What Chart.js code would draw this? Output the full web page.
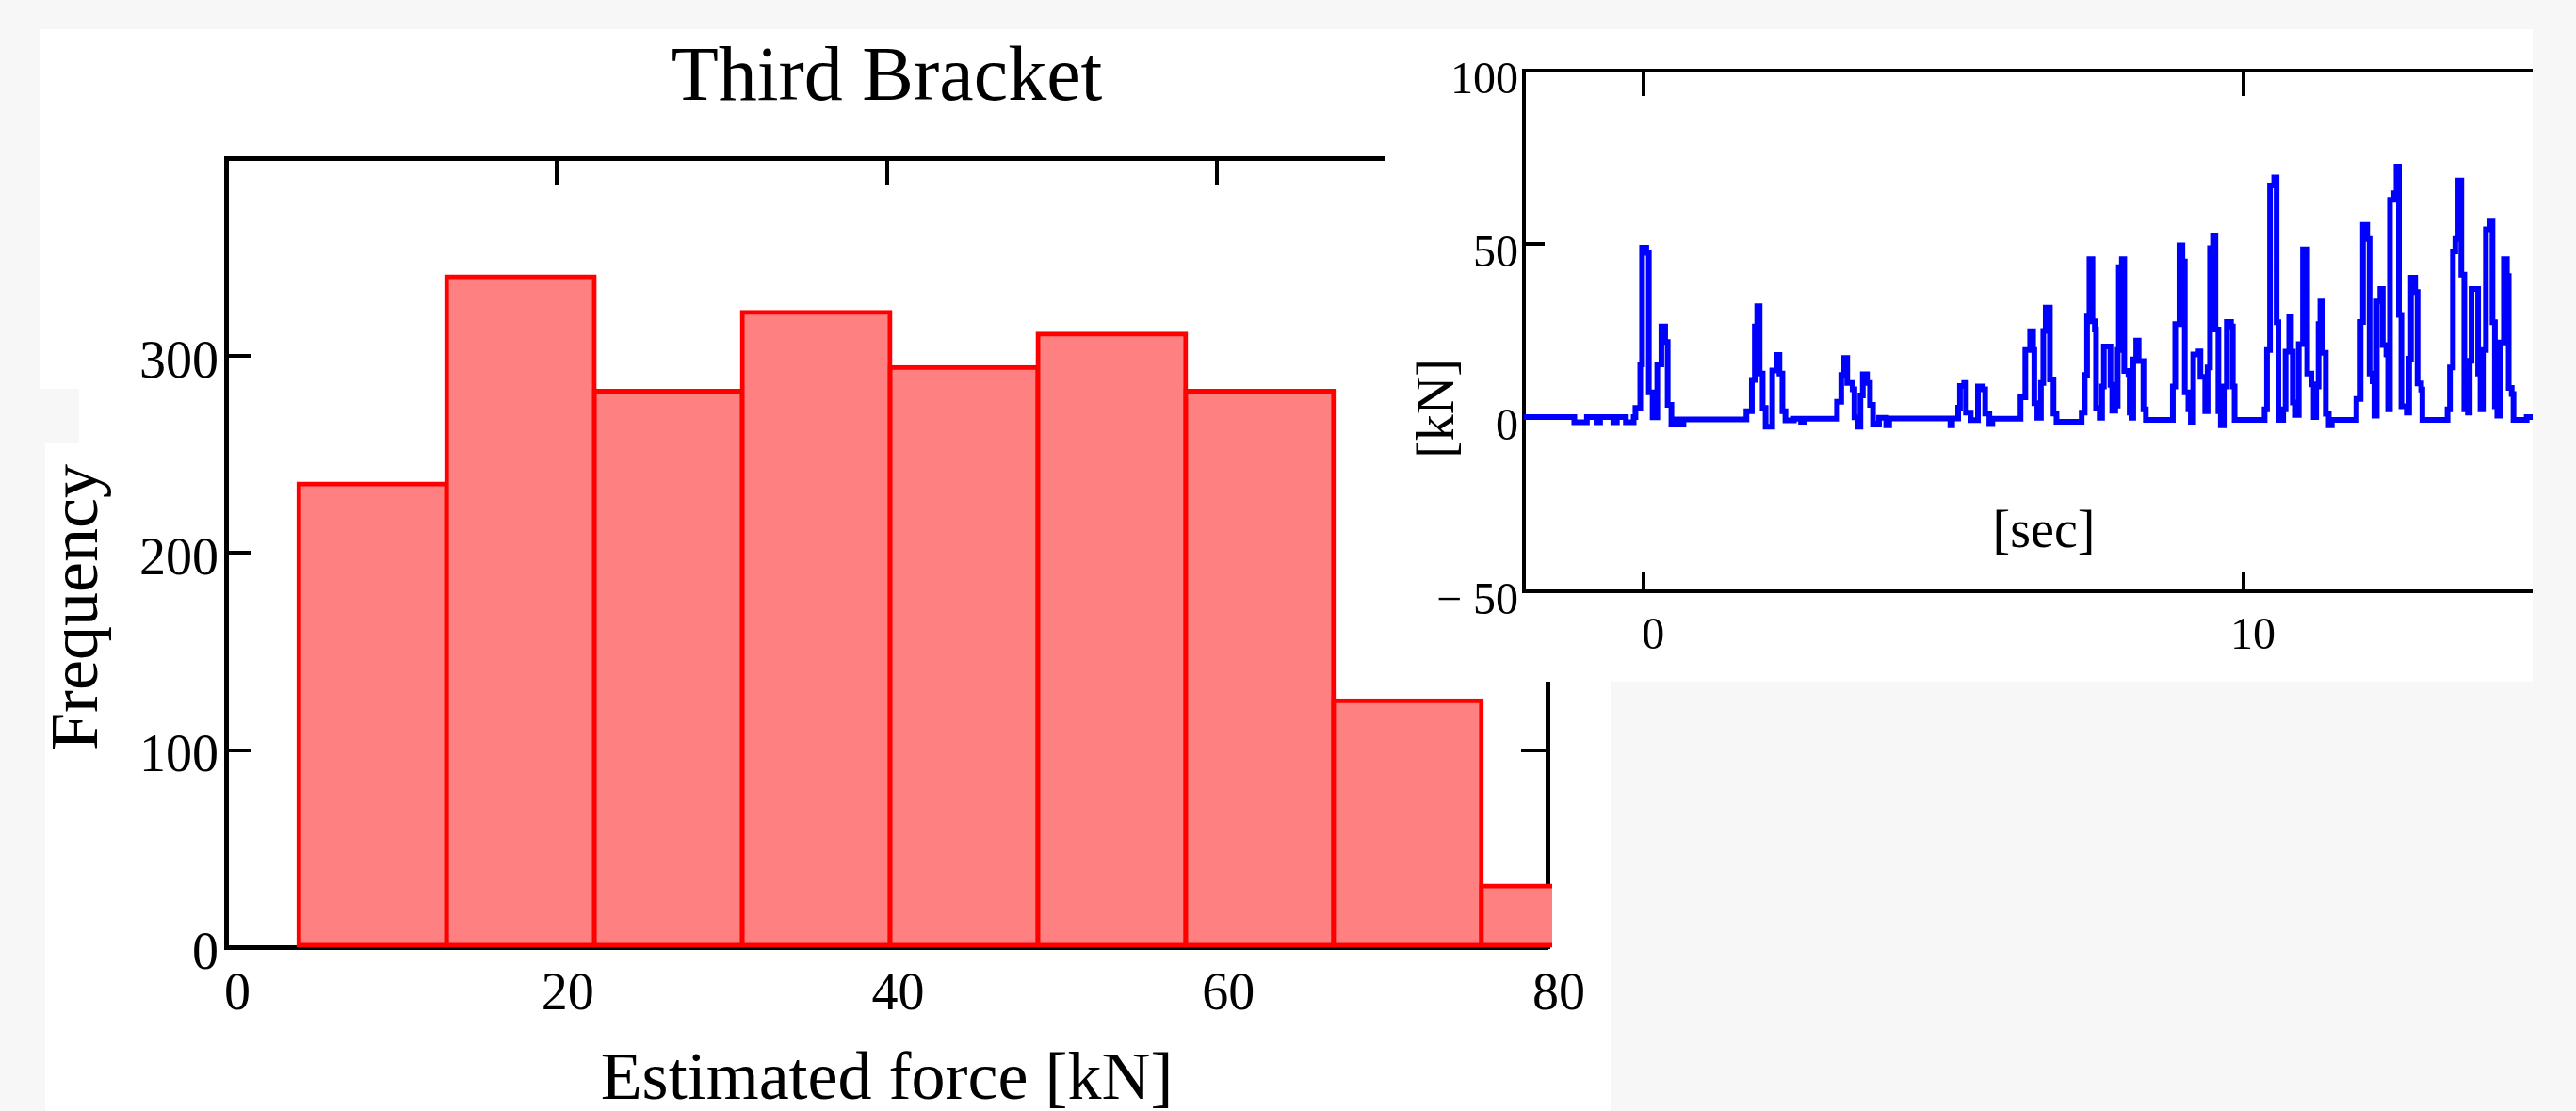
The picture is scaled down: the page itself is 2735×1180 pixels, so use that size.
<!DOCTYPE html>
<html>
<head>
<meta charset="utf-8">
<script src="https://cdn.jsdelivr.net/npm/chart.js"></script>
<style>
  html, body { margin: 0; padding: 0; background: #f7f7f7; }
  body { width: 2735px; height: 1180px; position: relative; overflow: hidden; }
  .sheet { position: absolute; background: #fff; }
  .gap { position: absolute; background: #f7f7f7; }
  #hist { position: absolute; left: 0; top: 0; }
  #inset-box { position: absolute; left: 1470px; top: 31px; width: 1219px; height: 693px; background: #fff; }
  #inset { position: absolute; left: 0; top: 0; }
</style>
</head>
<body>
<div class="sheet" style="left:42px;top:31px;width:1668px;height:1149px;"></div>
<div class="gap" style="left:42px;top:413px;width:42px;height:57px;"></div>
<div class="gap" style="left:42px;top:470px;width:6px;height:710px;"></div>
<canvas id="hist" width="1710" height="1180"></canvas>
<div id="inset-box"><canvas id="inset" width="1219" height="693"></canvas></div>

<script>
// ---------- data ----------
// histogram: bin centres (kN) and counts, bin width 8.95 kN
const binCentres = [8.875, 17.825, 26.775, 35.725, 44.675, 53.625, 62.575, 71.525, 80.475];
const frequency  = [235, 340, 282, 322, 294, 311, 282, 125, 31];
const forceTicks = [0, 20, 40, 60, 80];
const freqTicks  = [0, 100, 200, 300];

// inset: force time history, [sec, kN] change points
const forceSignal = [
  [-2,0.2],[-1.16,-1.3],[-0.95,0.2],[-0.79,-1.3],[-0.73,0.2],[-0.51,-1.3],[-0.45,0.2],[-0.30,-1.3],[-0.17,0.2],
  [-0.14,2.8],[-0.06,15.4],[-0.03,49],[0.04,47.5],[0.083,7.3],[0.146,0.1],[0.224,15.4],[0.292,26.3],[0.355,21.8],[0.397,3.7],[0.459,-1.7],[0.55,-0.5],[0.62,-1.7],[0.66,-0.5],
  [1.71,1.9],[1.80,10.9],[1.85,26.3],[1.89,32.1],[1.93,12.7],[1.98,2.8],[2.03,-2.6],[2.14,13.6],[2.21,18.1],[2.26,12.7],[2.31,1.9],[2.36,-0.8],[2.50,-0.3],[2.62,-1.2],[2.68,-0.3],
  [3.22,4.6],[3.29,12.3],[3.34,17.2],[3.39,10],[3.48,8.2],[3.51,0.1],[3.56,-2.6],[3.61,6.4],[3.65,12.5],[3.72,10],[3.77,3.7],[3.82,-1.7],[3.92,0],[4.04,-2.2],[4.09,-0.2],
  [5.11,-2.2],[5.14,-0.2],[5.24,2.9],[5.27,9.1],[5.34,10],[5.37,1.5],[5.45,-0.7],[5.57,9],[5.65,8.2],[5.69,1.2],[5.76,-1.6],[5.81,-0.3],
  [6.28,5.9],[6.36,19.5],[6.44,24.9],[6.49,19.5],[6.51,4.2],[6.56,0],[6.62,10],[6.66,25],[6.70,31.7],[6.77,11],[6.83,1.2],[6.88,-1.2],
  [7.30,1.5],[7.35,12.3],[7.39,29.4],[7.43,45.7],[7.48,27.8],[7.52,25.4],[7.54,2.8],[7.60,0],[7.64,9],[7.67,20.5],[7.78,9.5],[7.81,2],[7.86,3.5],[7.90,19.5],[7.92,43.4],[7.97,45.7],[8.01,13.5],[8.08,12.6],[8.10,1.5],[8.13,0],[8.16,16.8],[8.21,22.2],[8.25,16.3],[8.33,2.4],[8.37,-0.6],
  [8.82,9],[8.86,27],[8.93,49.7],[8.98,45],[9.02,7.3],[9.08,2.4],[9.12,-1.2],[9.16,18.2],[9.25,19.1],[9.28,11.8],[9.36,1.9],[9.40,14.5],[9.44,48.9],[9.49,52.5],[9.53,25.4],[9.58,1.9],[9.62,-2.2],[9.67,9],[9.72,27.6],[9.79,26.3],[9.82,9],[9.85,-0.6],
  [10.35,2.4],[10.39,19.5],[10.44,66.9],[10.51,69.2],[10.55,27.5],[10.58,-0.6],[10.66,2.4],[10.70,19],[10.76,29],[10.79,19],[10.82,4.4],[10.87,0.8],[10.92,21.2],[10.99,48.5],[11.06,12.7],[11.13,9.6],[11.17,0.2],[11.21,9],[11.25,27],[11.28,33.5],[11.31,18.7],[11.37,1.1],[11.42,-2.2],[11.47,-0.6],
  [11.88,5.4],[11.95,27.6],[11.99,55.6],[12.06,51.5],[12.10,12.7],[12.15,10.5],[12.18,0.6],[12.22,33.5],[12.28,37.1],[12.32,20.9],[12.38,18.2],[12.41,2.4],[12.44,62.8],[12.51,64.7],[12.55,72.3],[12.59,29.6],[12.63,3.3],[12.72,1.5],[12.76,17],[12.79,40.3],[12.86,36.2],[12.90,9.9],[12.96,8.1],[12.98,-0.6],
  [13.40,2.4],[13.44,14.5],[13.49,47.9],[13.53,51.5],[13.58,68.3],[13.63,41.2],[13.68,2.4],[13.74,1.5],[13.77,16.4],[13.80,37.1],[13.91,12.7],[13.95,2.4],[13.99,19.5],[14.04,54.3],[14.10,56.5],[14.15,27.5],[14.19,3.3],[14.23,0.6],[14.27,21.7],[14.34,45.7],[14.39,40.8],[14.42,8.6],[14.47,6.8],[14.50,-0.6],[14.72,0.2],[14.82,0.2]
];
const timeTicks = [0, 10];
const kNTicks   = [-50, 0, 50, 100];

// ---------- helpers ----------
const SERIF = "'Liberation Serif', 'Times New Roman', serif";
Chart.defaults.font.family = SERIF;
Chart.defaults.color = '#000';
Chart.defaults.animation = false;

// force a scale box size and drop the label overhang padding
function fixBox(w, h){
  return function(scale){
    if(w!==null) scale.width = w;
    if(h!==null) scale.height = h;
    scale.paddingLeft = scale.paddingRight = scale.paddingTop = scale.paddingBottom = 0;
  };
}
function onlyTicks(list){ return function(scale){ scale.ticks = list.map(v=>({value:v})); }; }

// free text (axis titles placed off-centre like the original)
const freeText = {
  id:'freeText',
  afterDraw(chart, args, opts){
    const ctx = chart.ctx;
    (opts.items||[]).forEach(it=>{
      ctx.save();
      ctx.translate(it.x, it.y);
      if(it.rotate) ctx.rotate(it.rotate);
      ctx.font = it.size+'px '+SERIF;
      ctx.fillStyle = '#000';
      ctx.textAlign = 'center';
      ctx.textBaseline = 'middle';
      ctx.fillText(it.text, 0, 0);
      ctx.restore();
    });
  }
};

const AXIS = {color:'#000', width:5};
const TICKMARK = (len)=>({display:true, offset:false, drawOnChartArea:false, drawTicks:true, tickLength:-len, color:'#000', lineWidth:4});

// ---------- histogram ----------
new Chart(document.getElementById('hist'), {
  type:'bar',
  data:{ datasets:[{
    data: binCentres.map((c,i)=>({x:c, y:frequency[i]})),
    backgroundColor:'#ff8080',
    borderColor:'#ff0000',
    borderWidth:5,
    borderSkipped:false,
    inflateAmount:2.5,
    barPercentage:1,
    categoryPercentage:1,
    clip:{left:10, top:10, right:5, bottom:5}
  }]},
  options:{
    responsive:false,
    layout:{padding:{left:0, right:67, top:0, bottom:0}},
    plugins:{
      legend:{display:false},
      tooltip:{enabled:false},
      title:{display:true, text:'Third Bracket', fullSize:false, color:'#000',
             font:{size:82, weight:'normal'}, padding:{top:35, bottom:35}},
      freeText:{items:[{text:'Frequency', x:84, y:645, size:72, rotate:-Math.PI/2}]}
    },
    scales:{
      x:{type:'linear', position:'bottom', min:0, max:80, offset:false,
         afterBuildTicks:onlyTicks(forceTicks),
         ticks:{font:{size:56}, color:'#000', padding:18, labelOffset:12, maxRotation:0},
         grid:{display:false, drawTicks:false, offset:false},
         border:AXIS,
         title:{display:true, text:'Estimated force [kN]', color:'#000',
                font:{size:72, lineHeight:1}, padding:{top:0, bottom:-4}},
         afterFit:fixBox(null, 174)},
      xTop:{type:'linear', position:'top', min:0, max:80, offset:false,
         afterBuildTicks:onlyTicks(forceTicks),
         ticks:{display:false},
         grid:TICKMARK(28),
         border:AXIS,
         afterFit:fixBox(null, 0)},
      y:{type:'linear', position:'left', min:0, max:400,
         afterBuildTicks:onlyTicks(freqTicks),
         ticks:{font:{size:56}, color:'#000', padding:35, labelOffset:8},
         grid:TICKMARK(27),
         border:AXIS,
         afterFit:fixBox(240, null)},
      yRight:{type:'linear', position:'right', min:0, max:400,
         afterBuildTicks:onlyTicks(freqTicks),
         ticks:{display:false},
         grid:TICKMARK(28),
         border:AXIS,
         afterFit:fixBox(0, null)}
    }
  },
  plugins:[freeText]
});

// ---------- inset time history ----------
new Chart(document.getElementById('inset'), {
  type:'line',
  data:{ datasets:[{
    data: forceSignal.map(p=>({x:p[0], y:p[1]})),
    borderColor:'#0000ff',
    borderWidth:6,
    pointRadius:0,
    fill:false,
    stepped:true
  }]},
  options:{
    responsive:false,
    layout:{padding:{left:0, right:0, top:44, bottom:0}},
    plugins:{
      legend:{display:false},
      tooltip:{enabled:false},
      freeText:{items:[
        {text:'[kN]', x:58, y:403, size:56, rotate:-Math.PI/2},
        {text:'[sec]', x:700, y:535, size:56}
      ]}
    },
    scales:{
      x:{type:'linear', position:'bottom', min:-2, max:14.82,
         afterBuildTicks:onlyTicks(timeTicks),
         ticks:{font:{size:48}, color:'#000', padding:41, labelOffset:10, maxRotation:0},
         grid:TICKMARK(21),
         border:{color:'#000', width:4},
         afterFit:fixBox(null, 96)},
      xTop:{type:'linear', position:'top', min:-2, max:14.82,
         afterBuildTicks:onlyTicks(timeTicks),
         ticks:{display:false},
         grid:TICKMARK(27),
         border:{color:'#000', width:4},
         afterFit:fixBox(null, 0)},
      y:{type:'linear', position:'left', min:-50, max:100,
         afterBuildTicks:onlyTicks(kNTicks),
         ticks:{font:{size:48}, color:'#000', padding:28, labelOffset:11,
                callback:v=> v<0 ? '\u2212 '+Math.abs(v) : String(v)},
         grid:TICKMARK(22),
         border:{color:'#000', width:4},
         afterFit:fixBox(148, null)}
    }
  },
  plugins:[freeText]
});
</script>
</body>
</html>
